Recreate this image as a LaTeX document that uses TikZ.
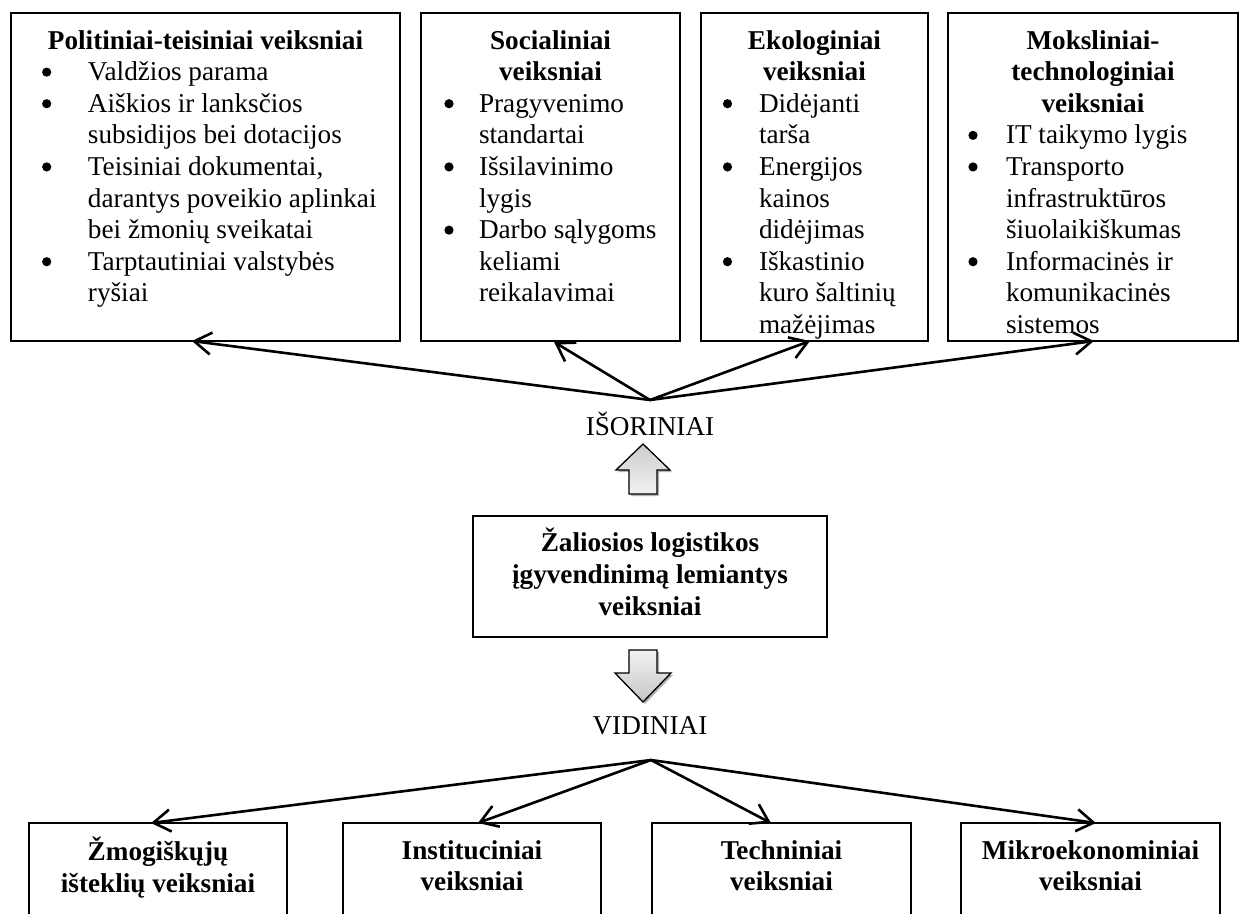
\documentclass[tikz,border=0pt]{standalone}
\usepackage{fontspec}
\setmainfont{Liberation Serif}
\usetikzlibrary{arrows.meta,calc}

% body font of the chart
\newcommand\chartfont{\fontsize{27.2pt}{31.6pt}\selectfont}
% round bullet centred at a given offset from the box edge
\newcommand\bul[1]{\hspace*{#1}\makebox[0pt]{\tikz[baseline=0pt]\fill (0pt,8.6pt) circle[radius=4.6pt];}}

\tikzset{
  frame/.style={draw, line width=1.3pt, inner sep=0pt, outer sep=0pt, anchor=north west},
  txt/.style={inner sep=0pt, outer sep=0pt, font=\chartfont},
  link/.style={line width=2.6pt, line cap=round,
    -{Straight Barb[length=17pt,width=22pt]}},
  blockarrow/.style={draw, line width=1.3pt, line join=miter},
}

\begin{document}
\begin{tikzpicture}[x=1pt,y=-1pt]
\useasboundingbox (0,0) rectangle (1239,913);
\clip (0,0) rectangle (1239,913);

% ---------- external factors (top row) ----------
\node[frame, minimum width=389pt, minimum height=328pt] (pol) at (11,13) {};
\node[txt, anchor=north west] (polT) at ($(pol.north west)+(0,14)$) {%
\begin{tabular}{@{}p{77pt}@{}p{312pt}@{}}
\multicolumn{2}{@{}c@{}}{\bfseries Politiniai-teisiniai veiksniai}\\
\bul{35.7pt} & Valdžios parama\\
\bul{35.7pt} & Aiškios ir lanksčios\\
 & subsidijos bei dotacijos\\
\bul{35.7pt} & Teisiniai dokumentai,\\
 & darantys poveikio aplinkai\\
 & bei žmonių sveikatai\\
\bul{35.7pt} & Tarptautiniai valstybės\\
 & ryšiai
\end{tabular}};

\node[frame, minimum width=259pt, minimum height=328pt] (soc) at (421,13) {};
\node[txt, anchor=north west] (socT) at ($(soc.north west)+(0,14)$) {%
\begin{tabular}{@{}p{58pt}@{}p{201pt}@{}}
\multicolumn{2}{@{}c@{}}{\bfseries Socialiniai}\\
\multicolumn{2}{@{}c@{}}{\bfseries veiksniai}\\
\bul{28pt} & Pragyvenimo\\
 & standartai\\
\bul{28pt} & Išsilavinimo\\
 & lygis\\
\bul{28pt} & Darbo sąlygoms\\
 & keliami\\
 & reikalavimai
\end{tabular}};

\node[frame, minimum width=227pt, minimum height=328pt] (eko) at (701,13) {};
\node[txt, anchor=north west] (ekoT) at ($(eko.north west)+(0,14)$) {%
\begin{tabular}{@{}p{58pt}@{}p{169pt}@{}}
\multicolumn{2}{@{}c@{}}{\bfseries Ekologiniai}\\
\multicolumn{2}{@{}c@{}}{\bfseries veiksniai}\\
\bul{26.5pt} & Didėjanti\\
 & tarša\\
\bul{26.5pt} & Energijos\\
 & kainos\\
 & didėjimas\\
\bul{26.5pt} & Iškastinio\\
 & kuro šaltinių\\
 & mažėjimas
\end{tabular}};

\node[frame, minimum width=290pt, minimum height=328pt] (mok) at (948,13) {};
\node[txt, anchor=north west] (mokT) at ($(mok.north west)+(0,14)$) {%
\begin{tabular}{@{}p{58pt}@{}p{232pt}@{}}
\multicolumn{2}{@{}c@{}}{\bfseries Moksliniai-}\\
\multicolumn{2}{@{}c@{}}{\bfseries technologiniai}\\
\multicolumn{2}{@{}c@{}}{\bfseries veiksniai}\\
\bul{25pt} & IT taikymo lygis\\
\bul{25pt} & Transporto\\
 & infrastruktūros\\
 & šiuolaikiškumas\\
\bul{25pt} & Informacinės ir\\
 & komunikacinės\\
 & sistemos
\end{tabular}};

% ---------- centre ----------
\node[txt, anchor=base] (ext) at (650,435) {IŠORINIAI};
\coordinate (hubE) at (650,400);

\node[frame, anchor=center, minimum width=354pt, minimum height=121pt] (core) at (650,576.5) {};
\node[txt, font=\chartfont\bfseries] (coreT) at (core.center) {%
\begin{tabular}{@{}c@{}}
Žaliosios logistikos\\
įgyvendinimą lemiantys\\
veiksniai
\end{tabular}};

\node[txt, anchor=base] (int) at (650,734) {VIDINIAI};
\coordinate (hubI) at (651,760);

% block arrows with soft shadow
\fill[gray!60, shift={(2,2)}]
  (643,444) -- (670,470) -- (657,470) -- (657,494) -- (629,494) -- (629,470) -- (616,470) -- cycle;
\shade[blockarrow, top color=gray!40, bottom color=gray!10]
  (643,444) -- (670,470) -- (657,470) -- (657,494) -- (629,494) -- (629,470) -- (616,470) -- cycle;

\fill[gray!60, shift={(2,2)}]
  (629,650) -- (657,650) -- (657,673) -- (671,673) -- (643,702) -- (615,673) -- (629,673) -- cycle;
\shade[blockarrow, top color=gray!10, bottom color=gray!45]
  (629,650) -- (657,650) -- (657,673) -- (671,673) -- (643,702) -- (615,673) -- (629,673) -- cycle;

% ---------- internal factors (bottom row) ----------
\node[frame, minimum width=258pt, minimum height=120pt] (zmo) at (29,823) {};
\node[frame, minimum width=258pt, minimum height=120pt] (ins) at (343,823) {};
\node[frame, minimum width=259pt, minimum height=120pt] (tec) at (652,823) {};
\node[frame, minimum width=259pt, minimum height=120pt] (mik) at (961,823) {};

\foreach \b/\l/\m in {zmo/Žmogiškųjų/išteklių veiksniai, ins/Instituciniai/veiksniai,
                      tec/Techniniai/veiksniai, mik/Mikroekonominiai/veiksniai}{
  \node[txt, anchor=north, font=\chartfont\bfseries] (\b T) at ($(\b.north)+(0,14)$)
    {\begin{tabular}{@{}c@{}}\l\\ \m\end{tabular}};
}

% ---------- connectors ----------
\draw[link] (hubE) -- ($(pol.south west)!0.465!(pol.south east)$);
\draw[link] (hubE) -- ($(soc.south west)!0.514!(soc.south east)+(0,1)$);
\draw[link] (hubE) -- ($(eko.south west)!0.48!(eko.south east)$);
\draw[link] (hubE) -- ($(mok.south west)!0.503!(mok.south east)$);

\draw[link] (hubI) -- ($(zmo.north west)!0.473!(zmo.north east)$);
\draw[link] (hubI) -- ($(ins.north west)!0.523!(ins.north east)$);
\draw[link] (hubI) -- ($(tec.north west)!0.459!(tec.north east)$);
\draw[link] (hubI) -- ($(mik.north west)!0.521!(mik.north east)$);
\end{tikzpicture}
\end{document}
